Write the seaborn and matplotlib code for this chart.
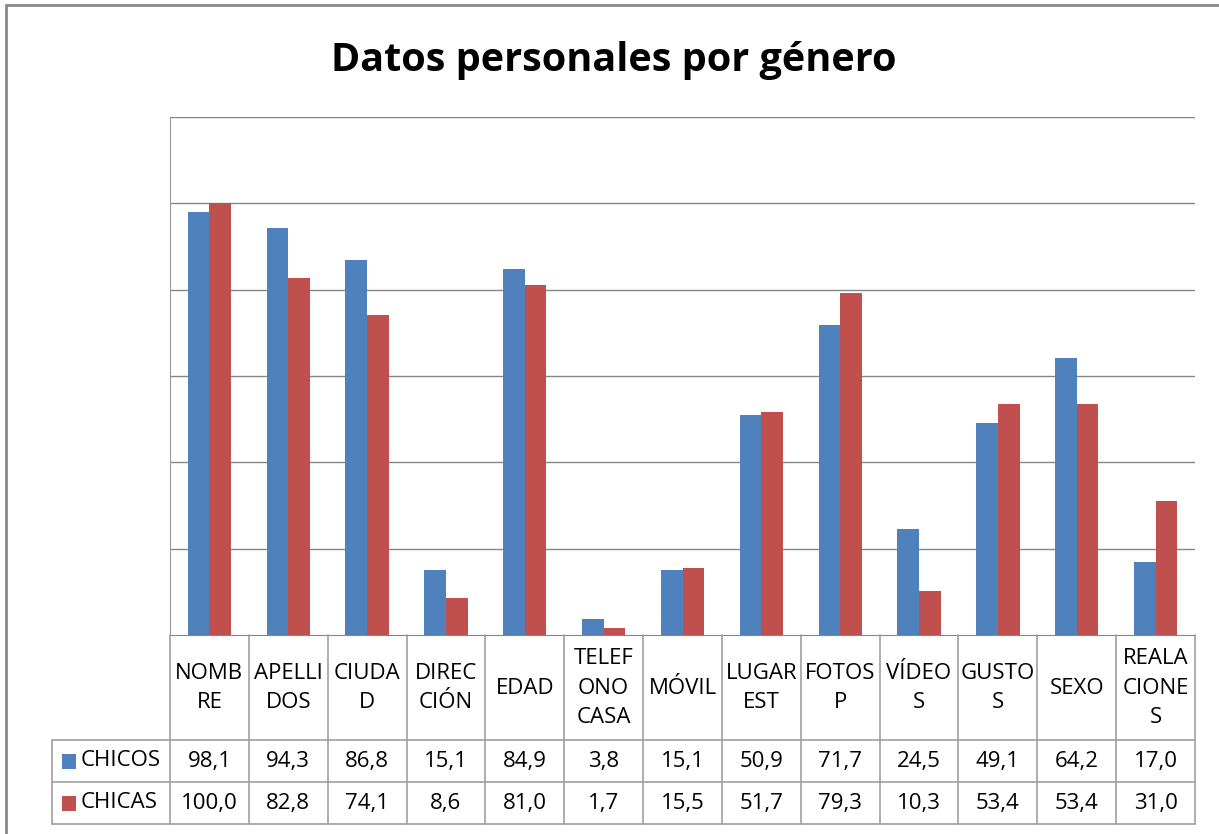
import matplotlib
matplotlib.use("Agg")
import matplotlib.pyplot as plt
from matplotlib.patches import Rectangle
from matplotlib.lines import Line2D
import pandas as pd
import seaborn as sns

categories = ["NOMBRE", "APELLIDOS", "CIUDAD", "DIRECCIÓN", "EDAD", "TELEFONO CASA",
              "MÓVIL", "LUGAR EST", "FOTOS P", "VÍDEOS", "GUSTOS", "SEXO", "REALACIONES"]
tick_labels = ["NOMB\nRE", "APELLI\nDOS", "CIUDA\nD", "DIREC\nCIÓN", "EDAD", "TELEF\nONO\nCASA",
               "MÓVIL", "LUGAR\nEST", "FOTOS\nP", "VÍDEO\nS", "GUSTO\nS", "SEXO", "REALA\nCIONE\nS"]
chicos = [98.1, 94.3, 86.8, 15.1, 84.9, 3.8, 15.1, 50.9, 71.7, 24.5, 49.1, 64.2, 17.0]
chicas = [100.0, 82.8, 74.1, 8.6, 81.0, 1.7, 15.5, 51.7, 79.3, 10.3, 53.4, 53.4, 31.0]
series = ["CHICOS", "CHICAS"]
colors = ["#4F81BD", "#C0504D"]

df = pd.DataFrame({
    "categoria": categories * 2,
    "valor": chicos + chicas,
    "grupo": [series[0]] * len(categories) + [series[1]] * len(categories),
})

sns.set_style("white")
plt.rcParams["font.family"] = ["Open Sans", "DejaVu Sans"]
plt.rcParams["text.color"] = "black"

W, H = 1219, 834
fig = plt.figure(figsize=(W / 100, H / 100), dpi=100)

# outer frame of the chart
fig.add_artist(Line2D([6 / W, 6 / W], [0, 1 - 5 / H], transform=fig.transFigure, color="#8a8a8a", lw=2))
fig.add_artist(Line2D([6 / W, 1], [1 - 5 / H, 1 - 5 / H], transform=fig.transFigure, color="#8a8a8a", lw=2))

ax = fig.add_axes([170 / W, 1 - 635 / H, (1195 - 170) / W, (635 - 117) / H])
sns.barplot(data=df, x="categoria", y="valor", hue="grupo", palette=colors, saturation=1,
            width=0.55, gap=0, linewidth=0, legend=False, ax=ax)
ax.set_xlim(-0.5, len(categories) - 0.5)
ax.set_ylim(0, 120)
ax.set_yticks([20, 40, 60, 80, 100, 120])
ax.yaxis.grid(True, color="#868686", lw=1)
ax.set_axisbelow(True)
ax.tick_params(left=False, bottom=False, labelleft=False, labelbottom=False)
ax.set_xlabel("")
ax.set_ylabel("")
for side in ["top", "right"]:
    ax.spines[side].set_visible(False)
ax.spines["left"].set_color("#9a9a9a")
ax.spines["bottom"].set_color("#868686")

fig.text(614 / W, 1 - 60 / H, "Datos personales por género", ha="center", va="center",
         fontsize=28.5, fontweight="bold")

# data table under the chart
cat_w = (1195 - 170) / len(categories)
left_col = (170 - 52) / cat_w
tab = fig.add_axes([52 / W, 1 - 824 / H, (1195 - 52) / W, (824 - 635) / H])
xmin = -0.5 - left_col
xmax = len(categories) - 0.5
tab.set_xlim(xmin, xmax)
tab.set_ylim(189, 0)
tab.axis("off")
line_kw = dict(color="#a0a0a0", lw=1.2, clip_on=False)
for i in range(len(categories) + 1):
    tab.plot([i - 0.5, i - 0.5], [0, 189], **line_kw)
tab.plot([xmin, xmin], [105, 189], **line_kw)
for yy in [105, 147, 189]:
    tab.plot([xmin, xmax], [yy, yy], **line_kw)

fs = 16
for i, lab in enumerate(tick_labels):
    tab.text(i, 53, lab, ha="center", va="center", fontsize=fs, linespacing=1.52)

for r, (name, vals, col) in enumerate(zip(series, [chicos, chicas], colors)):
    yc = 126 + 42 * r
    tab.add_patch(Rectangle((xmin + 10 / cat_w, yc - 7.5), 14 / cat_w, 15, color=col, lw=0))
    tab.text(xmin + 29 / cat_w, yc, name, ha="left", va="center", fontsize=fs)
    for i, v in enumerate(vals):
        tab.text(i, yc, f"{v:.1f}".replace(".", ","), ha="center", va="center", fontsize=fs)

fig.savefig("out.png", dpi=100)
